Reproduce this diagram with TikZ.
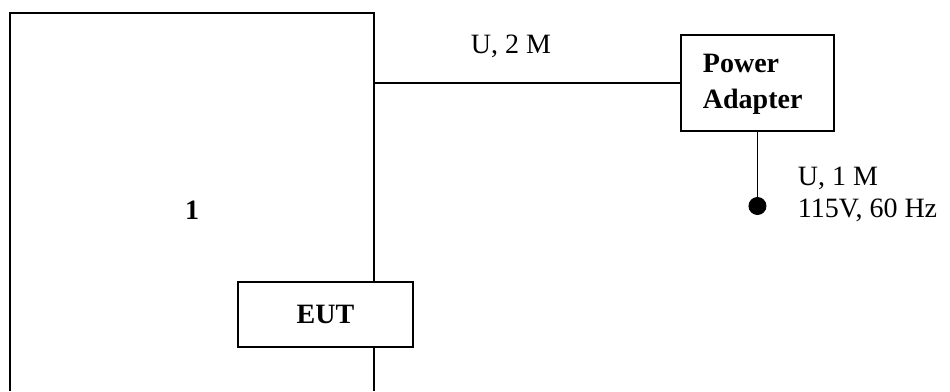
\documentclass[tikz,border=0pt]{standalone}
\usepackage{fontspec}
\setmainfont{Liberation Serif}
\begin{document}
\begin{tikzpicture}[x=1pt,y=-1pt,
  line width=1.9pt,
  txt/.style={font=\fontsize{28}{32}\selectfont, inner sep=0pt},
  btxt/.style={font=\fontsize{28}{36}\selectfont\bfseries, inner sep=0pt},
  boxed/.style={draw, line width=1.9pt}]
\useasboundingbox (0,0) rectangle (950,391);
% big enclosure (open at bottom)
\coordinate (bl) at (10,391);
\coordinate (tl) at (10,13);
\coordinate (tr) at (374,13);
\coordinate (br) at (374,391);
\node[btxt] (one) at (192,210) {1};
% EUT
\node[boxed, minimum width=175pt, minimum height=65pt, btxt] (eut) at (325.5,314.5) {EUT};
\draw (bl) -- (tl) -- (tr) -- (eut.north -| tr);
\draw (eut.south -| br) -- (br);
% Power adapter
\node[boxed, minimum width=153pt, minimum height=96pt, anchor=north west] (pa) at (680,34) {};
\node[btxt, anchor=base west] (palbl1) at (702,72) {Power};
\node[btxt, anchor=base west] (palbl2) at (702,108) {Adapter};
\coordinate (c1) at (374,83);
\draw (c1) -- (c1 -| pa.west);
\node[txt, anchor=base west] (l2m) at (470,53) {U, 2 M};
% plug
\node[circle, fill=black, minimum size=18pt, inner sep=0pt] (dot) at (pa.south |- 0,206) {};
\draw (pa.south) -- (dot.center);
\node[txt, anchor=base west] (l1m) at (797,185) {U, 1 M};
\node[txt, anchor=base west] (lv) at (797,217) {115V, 60 Hz};
\end{tikzpicture}
\end{document}
